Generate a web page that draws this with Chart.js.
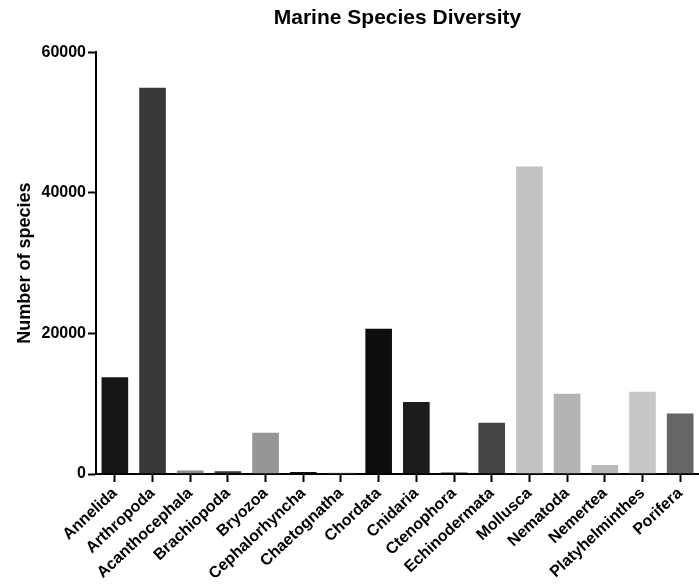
<!DOCTYPE html>
<html>
<head>
<meta charset="utf-8">
<script src="https://cdn.jsdelivr.net/npm/chart.js@4"></script>
<style>
  html, body { margin: 0; padding: 0; background: #fff; }
  #wrap { width: 699px; height: 585px; }
</style>
</head>
<body>
<div id="wrap"><canvas id="Graph"></canvas></div>
<script>
// data
const phyla = ['Annelida', 'Arthropoda', 'Acanthocephala', 'Brachiopoda', 'Bryozoa',
  'Cephalorhyncha', 'Chaetognatha', 'Chordata', 'Cnidaria', 'Ctenophora',
  'Echinodermata', 'Mollusca', 'Nematoda', 'Nemertea', 'Platyhelminthes', 'Porifera'];
const speciesCount = [13900, 55100, 650, 520, 6000, 420, 300, 20800, 10400, 330,
  7450, 43900, 11550, 1420, 11850, 8750];
const barColors = ['#151515', '#383838', '#8c8c8c', '#3a3a3a', '#969696', '#111111',
  '#9c9c9c', '#0e0e0e', '#1c1c1c', '#222222', '#454545', '#c2c2c2', '#b3b3b3',
  '#b8b8b8', '#c6c6c6', '#666666'];
const yTicks = [0, 20000, 40000, 60000];

const fontFamily = '"Liberation Sans", Arial, Helvetica, sans-serif';
const ctx = document.getElementById('Graph').getContext('2d');

const chart = new Chart(ctx, {
  type: 'bar',
  data: {
    labels: phyla,
    datasets: [{
      label: 'Number of species',
      data: speciesCount,
      backgroundColor: barColors,
      borderColor: 'rgba(255,255,255,0.3)',
      borderWidth: 1,
      categoryPercentage: 1,
      barPercentage: 0.76,
    }],
  },
  options: {
    responsive: true,
    maintainAspectRatio: false,
    animation: false,
    layout: { padding: { left: 0, right: -5, top: 0, bottom: 0 } },
    plugins: {
      legend: { display: false },
      tooltip: { enabled: false },
      title: {
        display: true,
        text: 'Marine Species Diversity',
        fullSize: false,
        color: '#000',
        font: { family: fontFamily, size: 21, weight: 'bold' },
        padding: { top: 6, bottom: 21 },
      },
    },
    scales: {
      x: {
        z: 1,
        border: { display: true, color: '#000', width: 2 },
        grid: {
          display: true,
          drawOnChartArea: false,
          drawTicks: true,
          offset: false,
          tickLength: 8,
          tickWidth: 2,
          tickColor: '#000',
        },
        ticks: {
          color: '#000',
          autoSkip: false,
          minRotation: 43,
          maxRotation: 43,
          padding: 2,
          font: { family: fontFamily, size: 16, weight: 'bold' },
        },
        afterFit: (scale) => { scale.height = 111; },
      },
      y: {
        z: 1,
        min: 0,
        max: 60000,
        border: { display: true, color: '#000', width: 2 },
        grid: {
          display: true,
          drawOnChartArea: false,
          drawTicks: true,
          tickLength: 8,
          tickWidth: 2,
          tickColor: '#000',
        },
        afterBuildTicks: (scale) => { scale.ticks = yTicks.map(v => ({ value: v })); },
        ticks: {
          color: '#000',
          padding: 2,
          callback: (v) => String(v),
          font: { family: fontFamily, size: 16, weight: 'bold' },
        },
        title: {
          display: true,
          text: 'Number of species',
          color: '#000',
          padding: { top: 14, bottom: 0 },
          font: { family: fontFamily, size: 18, weight: 'bold' },
        },
        afterFit: (scale) => { scale.width = 96; },
      },
    },
  },
});
</script>
</body>
</html>
